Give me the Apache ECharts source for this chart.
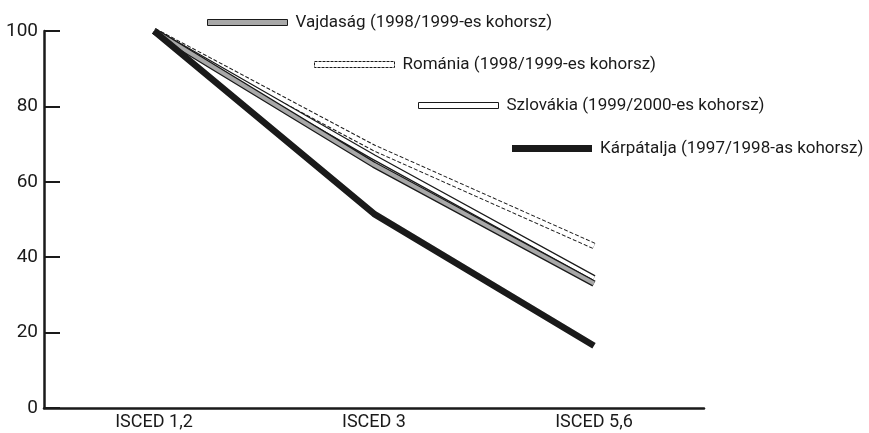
<!DOCTYPE html>
<html>
<head>
<meta charset="utf-8">
<script src="https://cdn.jsdelivr.net/npm/echarts@6/dist/echarts.min.js"></script>
<style>
  html, body { margin: 0; padding: 0; background: #fff; }
  #chart { width: 869px; height: 433px; }
</style>
</head>
<body>
<div id="chart"></div>
<script>
// categories and values
var categories = ['ISCED 1,2', 'ISCED 3', 'ISCED 5,6'];
var yTicks = [0, 20, 40, 60, 80, 100];
var vajdasag = [100, 64.5, 33];
var romania = [100, 69, 43];
var szlovakia = [100, 66.5, 34.5];
var karpatalja = [100, 51.5, 16.5];

var names = [
  'Vajdaság (1998/1999-es kohorsz)',
  'Románia (1998/1999-es kohorsz)',
  'Szlovákia (1999/2000-es kohorsz)',
  'Kárpátalja (1997/1998-as kohorsz)'
];

// no condensed face installed, Roboto is the narrowest at hand
var font = 'Roboto, "Liberation Sans", sans-serif';
var ink = '#1a1a1a';

var chart = echarts.init(document.getElementById('chart'));

// outlined line: a wide dark stroke below, a narrower fill stroke on top
function outlined(name, data, z, outer, inner) {
  var list = [{
    name: name + ' outline',
    type: 'line',
    data: data,
    symbol: 'none',
    silent: true,
    z: z,
    lineStyle: { color: ink, width: outer.width, type: outer.type || 'solid', cap: 'butt' }
  }];
  if (inner) {
    list.push({
      name: name,
      type: 'line',
      data: data,
      symbol: 'none',
      silent: true,
      z: z + 1,
      itemStyle: { color: inner.color },
      lineStyle: { color: inner.color, width: inner.width, cap: 'butt' }
    });
  } else {
    list[0].name = name;
  }
  return list;
}

function legendAt(name, left, top, h, itemStyle) {
  return {
    data: [{ name: name, icon: 'rect', itemStyle: itemStyle }],
    left: left,
    top: top,
    itemWidth: 80,
    itemHeight: h,
    selectedMode: false,
    textStyle: { fontFamily: font, fontSize: 17, color: ink, padding: [0, 0, 0, 3] }
  };
}

var series = [].concat(
  outlined(names[1], romania, 2, { width: 6.5, type: [4, 2] }, { color: '#fff', width: 4.5 }),
  outlined(names[2], szlovakia, 4, { width: 6 }, { color: '#fff', width: 3.5 }),
  outlined(names[0], vajdasag, 6, { width: 6.5 }, { color: '#a8a8a8', width: 4 }),
  outlined(names[3], karpatalja, 8, { width: 6.5 }, null)
);

chart.setOption({
  backgroundColor: '#fff',
  animation: false,
  grid: { left: 44, right: 165, top: 31, bottom: 25, containLabel: false },
  legend: [
    legendAt(names[0], 202, 9, 6, { color: '#a8a8a8', borderColor: ink, borderWidth: 1 }),
    legendAt(names[1], 309, 51, 6, { color: '#fff', borderColor: ink, borderWidth: 1, borderType: [3, 1] }),
    legendAt(names[2], 413, 92, 6, { color: '#fff', borderColor: ink, borderWidth: 1 }),
    legendAt(names[3], 507, 135, 7, { color: ink, borderColor: ink, borderWidth: 0 })
  ],
  xAxis: {
    type: 'category',
    data: categories,
    boundaryGap: true,
    axisLine: { lineStyle: { color: ink, width: 2.5 } },
    axisTick: { inside: true, length: 16, lineStyle: { color: ink, width: 2 } },
    axisLabel: { fontFamily: font, fontSize: 18, color: ink, margin: 5 },
    splitLine: { show: false }
  },
  yAxis: {
    type: 'value',
    min: yTicks[0],
    max: yTicks[yTicks.length - 1],
    interval: 20,
    axisLine: { show: true, lineStyle: { color: ink, width: 2.5 } },
    axisTick: { show: true, inside: true, length: 16, lineStyle: { color: ink, width: 2 } },
    axisLabel: { fontFamily: font, fontSize: 19, color: ink, margin: 6 },
    splitLine: { show: false }
  },
  series: series
});
</script>
</body>
</html>
